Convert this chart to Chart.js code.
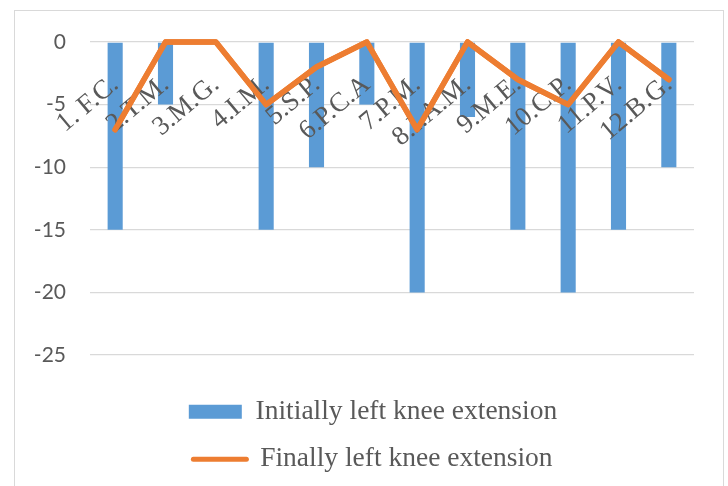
<!DOCTYPE html>
<html>
<head>
<meta charset="utf-8">
<script src="https://cdn.jsdelivr.net/npm/chart.js@4/dist/chart.umd.min.js"></script>
<style>
  html, body { margin: 0; padding: 0; background: #ffffff; }
  #wrap { position: relative; width: 728px; height: 486px; overflow: hidden; }
  #frame { position: absolute; left: 14px; top: 10px; width: 710px; height: 500px; border: 1.5px solid #d9d9d9; box-sizing: border-box; }
  #c { position: absolute; left: 0; top: 0; }
</style>
</head>
<body>
<div id="wrap">
  <div id="frame"></div>
  <canvas id="c" width="728" height="486"></canvas>
</div>
<script>
const categories = ["1. F.C.", "2.T.M.", "3.M.G.", "4.I.M.", "5.S.P.", "6.P.C.A", "7.P.M.", "8.I.A.M.", "9.M.E.", "10.C.P.", "11.P.V.", "12.B.G."];
const initialValues = [-15, -5, 0, -15, -10, -5, -20, -6, -15, -20, -15, -10];
const finalValues = [-7, 0, 0, -5, -2, 0, -7, 0, -3, -5, 0, -3];
const yTicks = [0, -5, -10, -15, -20, -25];
const seriesNames = ["Initially left knee extension", "Finally left knee extension"];

const BLUE = '#5B9BD5';
const ORANGE = '#ED7D31';
const TEXT = '#595959';
const SERIF = '"Liberation Serif", "Times New Roman", serif';

// draw the line series again above the (z:1) category labels: bars < labels < line
const lineOnTop = {
  id: 'lineOnTop',
  afterDraw(chart) {
    const meta = chart.getDatasetMeta(1);
    if (meta && meta.controller) meta.controller.draw();
  }
};

const ctx = document.getElementById('c').getContext('2d');
new Chart(ctx, {
  data: {
    labels: categories,
    datasets: [
      {
        type: 'bar',
        label: seriesNames[0],
        data: initialValues,
        backgroundColor: BLUE,
        borderWidth: 0,
        categoryPercentage: 1,
        barPercentage: 0.3,
        order: 2
      },
      {
        type: 'line',
        label: seriesNames[1],
        data: finalValues,
        borderColor: ORANGE,
        backgroundColor: ORANGE,
        borderWidth: 5.5,
        pointRadius: 0,
        pointHoverRadius: 0,
        tension: 0,
        borderJoinStyle: 'round',
        borderCapStyle: 'round',
        clip: false,
        order: 1
      }
    ]
  },
  plugins: [lineOnTop],
  options: {
    responsive: false,
    animation: false,
    devicePixelRatio: 1,
    layout: { padding: { left: 18, top: 42, right: 0, bottom: 3 } },
    scales: {
      x: {
        type: 'category',
        position: { y: -1.5 },
        offset: true,
        grid: { display: false },
        border: { display: false },
        ticks: {
          z: 1,
          autoSkip: false,
          minRotation: 40,
          maxRotation: 40,
          padding: 0,
          color: TEXT,
          font: { family: SERIF, size: 27 }
        }
      },
      gap: {
        type: 'category',
        axis: 'x',
        position: 'bottom',
        labels: [''],
        grid: { display: false },
        border: { display: false },
        ticks: { display: false },
        afterFit(scale) { scale.height = 23; }
      },
      y: {
        min: -25,
        max: 0,
        afterFit(scale) { scale.width = 72; },
        afterBuildTicks(scale) { scale.ticks = yTicks.map(v => ({ value: v })); },
        grid: { color: '#d9d9d9', lineWidth: 1.3, drawTicks: false },
        border: { display: false },
        ticks: {
          padding: 24,
          color: TEXT,
          font: { family: 'Lato, "Open Sans", sans-serif', size: 21 }
        }
      },
      rgap: {
        type: 'linear',
        axis: 'y',
        position: 'right',
        grid: { display: false },
        border: { display: false },
        ticks: { display: false },
        afterFit(scale) { scale.width = 34; }
      }
    },
    plugins: {
      tooltip: { enabled: false },
      legend: {
        position: 'bottom',
        labels: {
          usePointStyle: true,
          pointStyleWidth: 53,
          boxHeight: 14,
          padding: 20,
          color: TEXT,
          font: { family: SERIF, size: 27.5 },
          sort: (a, b) => a.datasetIndex - b.datasetIndex,
          generateLabels(chart) {
            const items = Chart.defaults.plugins.legend.labels.generateLabels(chart);
            items.forEach(it => {
              if (it.datasetIndex === 0) {
                it.pointStyle = 'rect';
                it.lineWidth = 0;
                it.fillStyle = BLUE;
                it.strokeStyle = BLUE;
              } else {
                it.pointStyle = 'line';
                it.lineWidth = 5;
                it.strokeStyle = ORANGE;
                it.fillStyle = ORANGE;
                it.lineCap = 'round';
              }
            });
            return items;
          }
        }
      }
    }
  }
});
</script>
</body>
</html>
